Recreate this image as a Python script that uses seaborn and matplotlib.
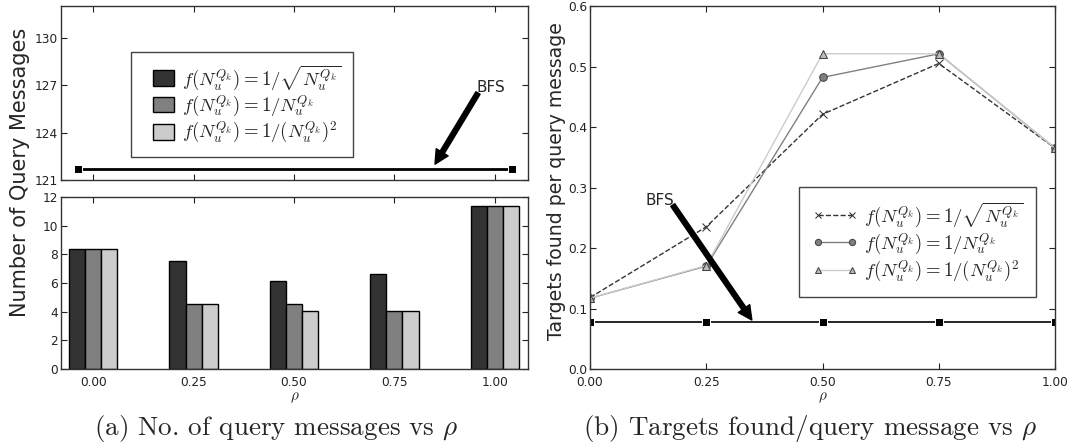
import numpy as np
import pandas as pd
import matplotlib
matplotlib.use("Agg")
import matplotlib.pyplot as plt
import seaborn as sns
from matplotlib.patches import Patch, Rectangle
from matplotlib.legend_handler import HandlerPatch

# data
rho = [0.00, 0.25, 0.50, 0.75, 1.00]
rho_labels = ["0.00", "0.25", "0.50", "0.75", "1.00"]
func_labels = [
    r"$f(N_u^{Q_k}) = 1/\sqrt{N_u^{Q_k}}$",
    r"$f(N_u^{Q_k}) = 1/N_u^{Q_k}$",
    r"$f(N_u^{Q_k}) = 1/(N_u^{Q_k})^2$",
]
msgs_sqrt = [8.35, 7.55, 6.13, 6.66, 11.34]
msgs_inv = [8.35, 4.56, 4.56, 4.06, 11.34]
msgs_inv2 = [8.35, 4.56, 4.08, 4.06, 11.34]
bfs_msgs = 121.7
bfs_span_rho = [-0.0375, 1.0425]

tgt_sqrt = [0.118, 0.235, 0.421, 0.505, 0.365]
tgt_inv = [0.117, 0.170, 0.482, 0.521, 0.365]
tgt_inv2 = [0.117, 0.171, 0.521, 0.521, 0.365]
tgt_bfs = [0.077, 0.077, 0.077, 0.077, 0.077]

sns.set_theme(style="white")
plt.rcParams.update({
    "mathtext.fontset": "cm",
    "xtick.direction": "in",
    "ytick.direction": "in",
    "xtick.top": True,
    "xtick.bottom": True,
    "ytick.left": True,
    "ytick.right": True,
    "xtick.major.size": 4,
    "ytick.major.size": 4,
    "xtick.major.width": 0.8,
    "ytick.major.width": 0.8,
    "xtick.major.pad": 5,
    "ytick.major.pad": 2,
    "xtick.labelsize": 8.7,
    "ytick.labelsize": 8.7,
    "axes.edgecolor": "#333333",
    "axes.linewidth": 1.0,
    "xtick.color": "#222222",
    "ytick.color": "#222222",
})
plt.rcParams["font.family"] = ["DejaVu Sans"]

bar_colors = ["#333333", "#808080", "#cccccc"]
arrow_props = dict(facecolor="black", edgecolor="black", width=3.5,
                   headwidth=10, headlength=10, shrink=0.0)
# extra room on the right of legend text, like the LaTeX original
pad_tail = r"\;\;\;"
legend_labels = [lab[:-1] + pad_tail + "$" for lab in func_labels]


def inset_patch(legend, orig_handle, xdescent, ydescent, width, height, fontsize):
    # leave a gap before the swatch so it sits further from the frame
    gap = 8
    return Rectangle((-xdescent + gap, -ydescent), width - gap, height)


fig = plt.figure(figsize=(10.8, 4.48), dpi=100)
ax_top = fig.add_axes([0.0565, 0.5982, 0.4324, 0.3884])
ax_bot = fig.add_axes([0.0565, 0.1763, 0.4324, 0.384])
ax_r = fig.add_axes([0.5463, 0.1763, 0.4306, 0.8103])

# bar chart (bottom left)
bars = pd.DataFrame({
    "rho": rho_labels * 3,
    "msgs": msgs_sqrt + msgs_inv + msgs_inv2,
    "func": [func_labels[0]] * 5 + [func_labels[1]] * 5 + [func_labels[2]] * 5,
})
sns.barplot(data=bars, x="rho", y="msgs", hue="func", palette=bar_colors,
            width=0.48, edgecolor="black", linewidth=1.0, saturation=1,
            legend=False, ax=ax_bot)
ax_bot.set_xlim(-0.32, 4.33)
ax_bot.set_ylim(0, 12)
ax_bot.set_yticks(range(0, 13, 2))
ax_bot.set_xlabel(r"$\rho$", fontsize=11, labelpad=1)
ax_bot.set_ylabel("")

# BFS line (top left)
bfs_df = pd.DataFrame({"rho": bfs_span_rho, "msgs": [bfs_msgs] * 2})
sns.lineplot(data=bfs_df, x="rho", y="msgs", color="black", linewidth=2,
             marker="s", markersize=6, ax=ax_top)
ax_top.set_xlim(-0.08, 1.0825)
ax_top.set_ylim(121, 132)
ax_top.set_yticks([121, 124, 127, 130])
ax_top.set_xticks(rho)
ax_top.set_xticklabels([])
ax_top.set_xlabel("")
ax_top.set_ylabel("")
ax_top.text(0.99, 126.87, "BFS", fontsize=11, ha="center", va="center")
ax_top.annotate("", xy=(0.851, 122.0), xytext=(0.958, 126.5),
                arrowprops=arrow_props)

handles = [Patch(facecolor=c, edgecolor="black") for c in bar_colors]
ax_top.legend(handles, legend_labels, loc="upper left", bbox_to_anchor=(0.15, 0.736),
              borderaxespad=0, fontsize=13.5, frameon=True, fancybox=False,
              edgecolor="#444444", framealpha=1, handlelength=1.68,
              handleheight=0.9, labelspacing=0.1, borderpad=0.6,
              handletextpad=0.45,
              handler_map={Patch: HandlerPatch(patch_func=inset_patch)})

fig.text(20 / 1080, 1 - 172 / 448, "Number of Query Messages", rotation=90,
         ha="center", va="center", fontsize=15)

# line chart (right)
styles = [
    (tgt_sqrt, "#333333", "--", "x", "#333333", "#333333"),
    (tgt_inv, "#808080", "-", "o", "#808080", "#444444"),
    (tgt_inv2, "#cccccc", "-", "^", "#bbbbbb", "#444444"),
]
for (vals, col, ls, mk, mfc, mec), lab in zip(styles, legend_labels):
    sns.lineplot(x=rho, y=vals, color=col, linestyle=ls, marker=mk,
                 markersize=5.5, markerfacecolor=mfc, markeredgecolor=mec,
                 linewidth=1.0, label=lab, ax=ax_r)
sns.lineplot(x=rho, y=tgt_bfs, color="black", linewidth=1.2, marker="s",
             markersize=6, ax=ax_r)
ax_r.set_xlim(0, 1)
ax_r.set_ylim(0, 0.6)
ax_r.set_xticks(rho)
ax_r.set_xticklabels(rho_labels)
ax_r.set_yticks(np.arange(0, 0.61, 0.1))
ax_r.set_yticklabels(["0.0", "0.1", "0.2", "0.3", "0.4", "0.5", "0.6"])
ax_r.set_xlabel(r"$\rho$", fontsize=11, labelpad=1)
ax_r.set_ylabel("")
ax_r.text(0.15, 0.279, "BFS", fontsize=11, ha="center", va="center")
ax_r.annotate("", xy=(0.348, 0.081), xytext=(0.178, 0.271),
              arrowprops=arrow_props)
leg_r = ax_r.legend(loc="lower right", bbox_to_anchor=(0.96, 0.198), borderaxespad=0,
                    fontsize=13.5, frameon=True, fancybox=False, edgecolor="#444444",
                    framealpha=1, numpoints=2, handlelength=2.4, labelspacing=0.15,
                    borderpad=0.7, handletextpad=0.35)
for line in leg_r.get_lines():
    line.set_markersize(4.5)

fig.text(556 / 1080, 1 - 181 / 448, "Targets found per query message",
         rotation=90, ha="center", va="center", fontsize=13.6)

fig.text(276 / 1080, 1 - 428 / 448, r"(a) No. of query messages vs $\rho$",
         ha="center", va="center", fontsize=19.5, family="cmr10")
fig.text(810 / 1080, 1 - 428 / 448, r"(b) Targets found/query message vs $\rho$",
         ha="center", va="center", fontsize=19.5, family="cmr10")

fig.savefig("out.png", dpi=100)
